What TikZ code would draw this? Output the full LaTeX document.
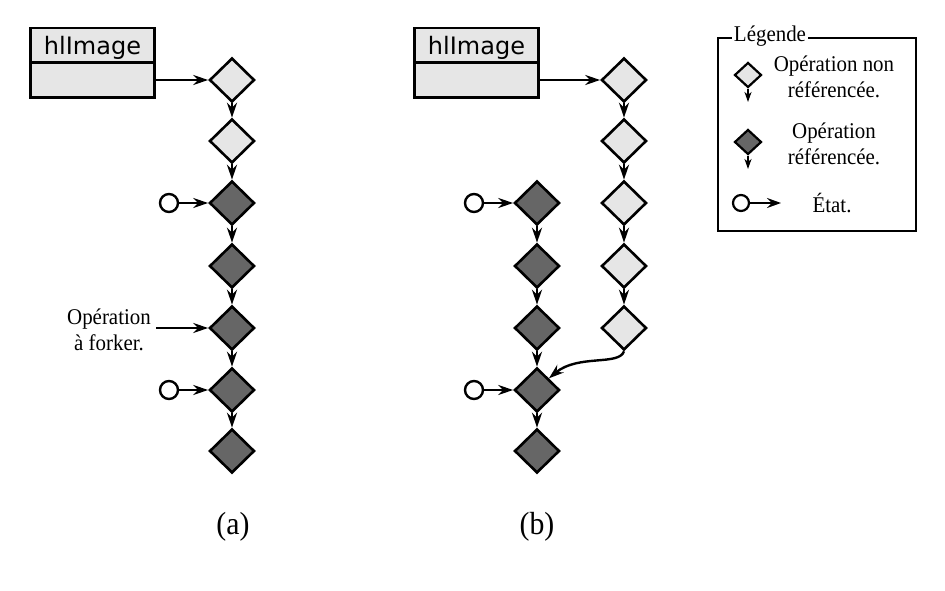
\documentclass[tikz,border=0pt]{standalone}
\usepackage{fontspec}
\setmainfont{Liberation Serif}[FakeStretch=0.93]
\newfontfamily\dejavu{DejaVu Sans}
\usetikzlibrary{shapes.geometric,arrows.meta}
\definecolor{lightop}{HTML}{E6E6E6}
\definecolor{darkop}{HTML}{666666}
\begin{document}
\begin{tikzpicture}[x=1pt,y=-1pt,
 op/.style={diamond,draw=black,line width=2.6pt,inner sep=0pt,minimum width=45pt,minimum height=44pt},
 light/.style={op,fill=lightop},
 dark/.style={op,fill=darkop},
 smallop/.style={diamond,draw=black,line width=2.2pt,inner sep=0pt,minimum width=27pt,minimum height=25pt},
 state/.style={circle,draw,line width=2.4pt,fill=white,minimum size=18pt,inner sep=0pt},
 arr/.style={line width=2.4pt,-{Stealth[length=15pt,width=10pt,inset=5pt]}},
 sarr/.style={line width=2.2pt,-{Stealth[length=10pt,width=7pt,inset=3pt]}},
 cls/.style={draw,line width=2.6pt,fill=lightop,inner sep=0pt,outer sep=0pt,minimum width=124pt},
 clsname/.style={font=\dejavu\fontsize{24}{24}\selectfont,inner sep=0pt},
 txt/.style={font=\fontsize{22.5}{26}\selectfont,align=center,inner sep=0pt},
 lbl/.style={font=\fontsize{32}{32}\selectfont,inner sep=0pt}]
\useasboundingbox (0,0) rectangle (945,591);
% ---------- (a)
\node[cls,minimum height=34.5pt,anchor=north west] (ha) at (30.5,28) {};
\node[cls,minimum height=35pt,anchor=north] (hab) at (ha.south) {};
\node[clsname] (hat) at ([yshift=-2.5pt]ha.center) {hlImage};
\node[light] (a1) at (232,80) {};
\node[light] (a2) at (232,141) {};
\node[dark] (a3) at (232,203) {};
\node[dark] (a4) at (232,266) {};
\node[dark] (a5) at (232,328) {};
\node[dark] (a6) at (232,390) {};
\node[dark] (a7) at (232,451) {};
\draw[arr] (hab.east) -- (a1.west);
\foreach \i/\j in {1/2,2/3,3/4,4/5,5/6,6/7}{\draw[arr] (a\i.south) -- (a\j.north);}
\node[state] (ac1) at (169,203) {};
\node[state] (ac2) at (169,390) {};
\draw[arr] (ac1.east) -- (a3.west);
\draw[arr] (ac2.east) -- (a6.west);
\node[txt] (fork) at (109,330) {Opération\\à forker.};
\coordinate (forks) at (156,328);
\draw[arr] (forks) -- (a5.west);
\node[lbl] (la) at (233,527) {(a)};
% ---------- (b)
\node[cls,minimum height=34.5pt,anchor=north west] (hb) at (414.5,28) {};
\node[cls,minimum height=35pt,anchor=north] (hbb) at (hb.south) {};
\node[clsname] (hbt) at ([yshift=-2.5pt]hb.center) {hlImage};
\node[light] (r1) at (624,80) {};
\node[light] (r2) at (624,141) {};
\node[light] (r3) at (624,203) {};
\node[light] (r4) at (624,266) {};
\node[light] (r5) at (624,328) {};
\draw[arr] (hbb.east) -- (r1.west);
\foreach \i/\j in {1/2,2/3,3/4,4/5}{\draw[arr] (r\i.south) -- (r\j.north);}
\node[dark] (b1) at (537,203) {};
\node[dark] (b2) at (537,266) {};
\node[dark] (b3) at (537,328) {};
\node[dark] (b4) at (537,390) {};
\node[dark] (b5) at (537,451) {};
\foreach \i/\j in {1/2,2/3,3/4,4/5}{\draw[arr] (b\i.south) -- (b\j.north);}
\node[state] (bc1) at (474,203) {};
\node[state] (bc2) at (474,390) {};
\draw[arr] (bc1.east) -- (b1.west);
\draw[arr] (bc2.east) -- (b4.west);
\draw[arr] (r5.south) .. controls (619,366) and (578,354) .. (b4.north east);
\node[lbl] (lb) at (537,527) {(b)};
% ---------- legend
\draw[line width=2pt] (718,38) rectangle (916,231);
\node[txt,fill=white,inner xsep=2pt,inner ysep=1pt] (lt) at (770,36) {Légende};
\node[smallop,fill=lightop] (l1) at (748,75) {};
\coordinate (l1e) at (748,102);
\draw[sarr] (l1.south) -- (l1e);
\node[txt] (l1t) at (834,77) {Opération non\\référencée.};
\node[smallop,fill=darkop] (l2) at (748,142) {};
\coordinate (l2e) at (748,169);
\draw[sarr] (l2.south) -- (l2e);
\node[txt] (l2t) at (834,144) {Opération\\référencée.};
\node[circle,draw,line width=2.2pt,fill=white,minimum size=16pt,inner sep=0pt] (l3) at (741,203) {};
\coordinate (l3e) at (781,203);
\draw[line width=2.2pt,-{Stealth[length=14pt,width=10pt,inset=5pt]}] (l3.east) -- (l3e);
\node[txt] (l3t) at (832,203) {État.};
\end{tikzpicture}
\end{document}
